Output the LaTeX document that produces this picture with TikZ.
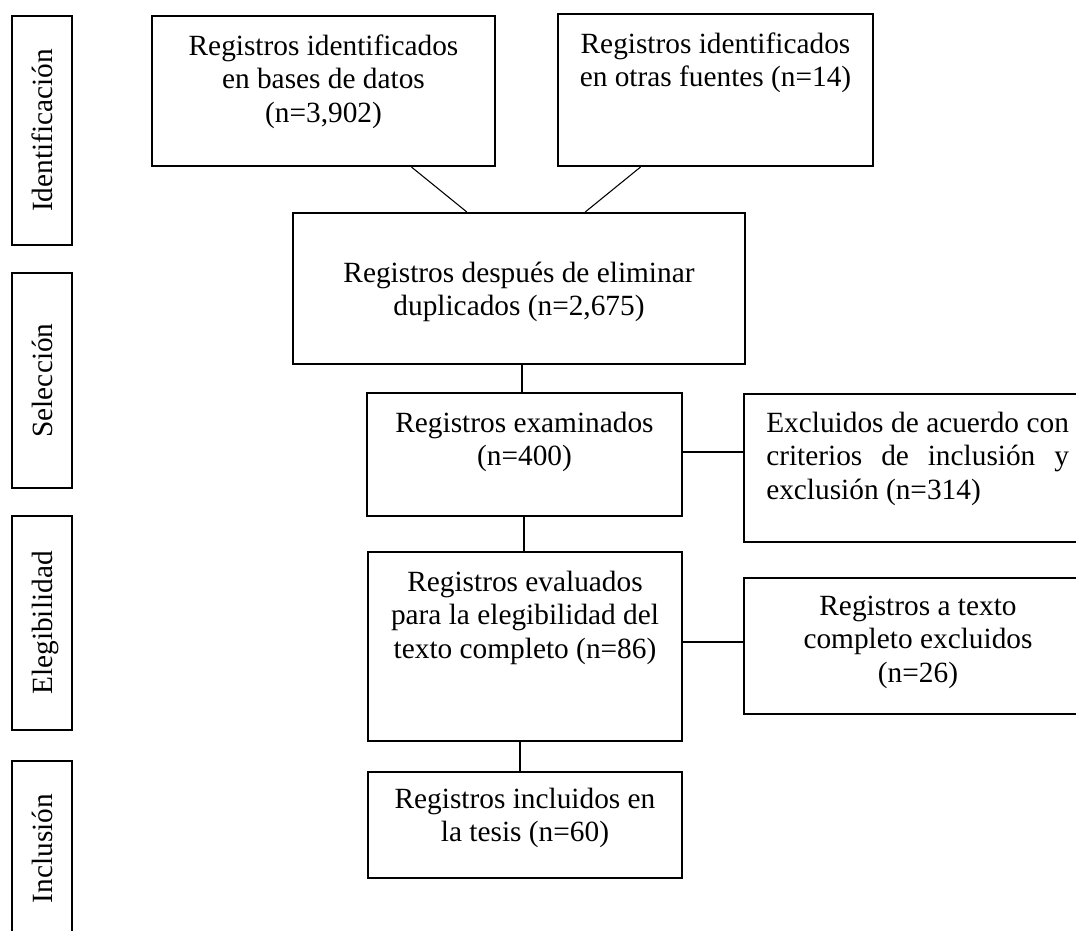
\documentclass[tikz,border=0pt]{standalone}
\usepackage{fontspec}
\setmainfont{Liberation Serif}
\usetikzlibrary{fit,calc}
\begin{document}
\begin{tikzpicture}[x=0.75pt,y=-0.75pt,
  mainbox/.style={draw, line width=1.6pt, inner sep=0pt, rectangle},
  sidebox/.style={draw, line width=0.9pt, inner sep=0pt, rectangle},
  conn/.style={line width=0.8pt},
  txt/.style={font=\fontsize{22}{25.1}\selectfont, inner sep=0pt, align=center, anchor=north},
  sidetxt/.style={font=\fontsize{22}{25.1}\selectfont, inner sep=0pt, rotate=90, anchor=base}]
\useasboundingbox (0,0) rectangle (1076,931);
\clip (0,0) rectangle (1076,931);

% side phase boxes
\node[sidebox, fit={(12,16) (72,245)}] (s1) {};
\node[sidebox, fit={(12,273) (72,488)}] (s2) {};
\node[sidebox, fit={(12,516) (72,730)}] (s3) {};
\node[sidebox, fit={(12,761) (72,936)}] (s4) {};
\node[sidetxt] (l1) at (52,130.5) {Identificación};
\node[sidetxt] (l2) at (52,380.5) {Selección};
\node[sidetxt] (l3) at (52,623) {Elegibilidad};
\node[sidetxt] (l4) at (52,848.5) {Inclusión};

% main boxes
\node[mainbox, fit={(152,16) (495,166)}] (b1) {};
\node[mainbox, fit={(558,14) (873,166)}] (b2) {};
\node[mainbox, fit={(293,213) (745,364)}] (b3) {};
\node[mainbox, fit={(367,393) (682,516)}] (b4) {};
\node[mainbox, fit={(744,394) (1091,542)}] (b5) {};
\node[mainbox, fit={(368,552) (682,741)}] (b6) {};
\node[mainbox, fit={(744,578) (1091,714)}] (b7) {};
\node[mainbox, fit={(368,772) (682,878)}] (b8) {};

% texts
\node[txt] (t1) at (323.5,31.6) {\strut Registros identificados\\ en bases de datos\\ (n=3,902)};
\node[txt] (t2) at (715.5,29.6) {\strut Registros identificados\\ en otras fuentes (n=14)};
\node[txt] (t3) at (519,258.6) {\strut Registros después de eliminar\\ duplicados (n=2,675)};
\node[txt] (t4) at (524.5,408.6) {\strut Registros examinados\\ (n=400)};
\node[txt, anchor=north west, text width=227pt, align=justify] (t5) at (766,408.6) {\strut Excluidos de acuerdo con\linebreak criterios de inclusión y\linebreak exclusión (n=314)};
\node[txt] (t6) at (525,567.6) {\strut Registros evaluados\\ para la elegibilidad del\\ texto completo (n=86)};
\node[txt] (t7) at (918,591.6) {\strut Registros a texto\\ completo excluidos\\ (n=26)};
\node[txt] (t8) at (525,784.6) {\strut Registros incluidos en\\ la tesis (n=60)};

% connectors
\draw[conn] ($(b1.south west)!0.755!(b1.south east)$) -- ($(b3.north west)!0.385!(b3.north east)$);
\draw[conn] ($(b2.south west)!0.2635!(b2.south east)$) -- ($(b3.north west)!0.646!(b3.north east)$);
\draw[conn] ($(b4.north)+(-2.5,0)$) -- ($(b4.north |- b3.south)+(-2.5,0)$);
\draw[conn] ($(b4.east)+(0,-2.5)$) -- ($(b4.east -| b5.west)+(0,-2.5)$);
\draw[conn] ($(b6.north)+(-1,0)$) -- ($(b6.north |- b4.south)+(-1,0)$);
\draw[conn] ($(b6.east)+(0,-4.5)$) -- ($(b6.east -| b7.west)+(0,-4.5)$);
\draw[conn] ($(b8.north)+(-5,0)$) -- ($(b8.north |- b6.south)+(-5,0)$);
\end{tikzpicture}
\end{document}
